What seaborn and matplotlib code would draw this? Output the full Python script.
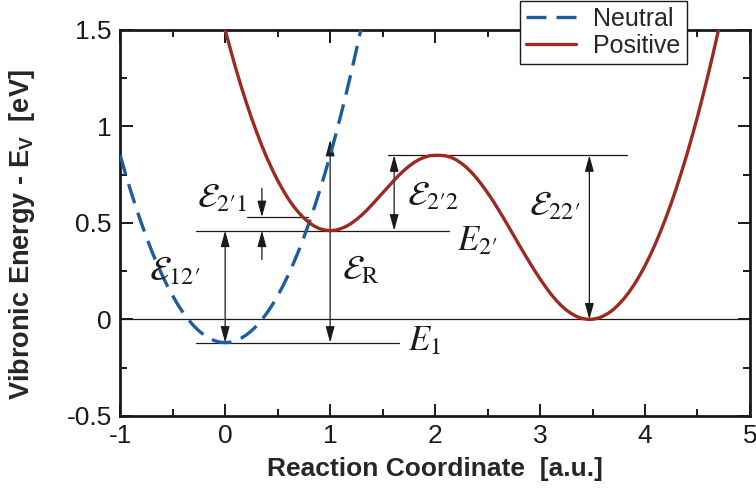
import numpy as np
import pandas as pd
import matplotlib
matplotlib.use('Agg')
import matplotlib.pyplot as plt
import seaborn as sns

# curve samples
neutral_x = [-1.0, -0.95, -0.9, -0.85, -0.8, -0.75, -0.7, -0.65, -0.6, -0.55, -0.5,
             -0.45, -0.4, -0.35, -0.3, -0.25, -0.2, -0.15, -0.1, -0.05, 0.0,
             0.05, 0.1, 0.15, 0.2, 0.25, 0.3, 0.35, 0.4, 0.45, 0.5,
             0.55, 0.6, 0.65, 0.7, 0.75, 0.8, 0.85, 0.9, 0.95, 1.0,
             1.05, 1.1, 1.15, 1.2, 1.25, 1.3]
neutral_y = [0.850, 0.755, 0.666, 0.581, 0.501, 0.426, 0.355, 0.290, 0.229, 0.173, 0.123,
             0.076, 0.035, -0.001, -0.033, -0.059, -0.081, -0.098, -0.110, -0.118, -0.120,
             -0.118, -0.110, -0.098, -0.081, -0.059, -0.033, -0.001, 0.035, 0.076, 0.123,
             0.173, 0.229, 0.290, 0.355, 0.426, 0.501, 0.581, 0.666, 0.755, 0.850,
             0.949, 1.054, 1.163, 1.277, 1.396, 1.519]

positive_x = [0.0, 0.05, 0.1, 0.15, 0.2, 0.25, 0.3, 0.35, 0.4, 0.45, 0.5,
              0.55, 0.6, 0.65, 0.7, 0.75, 0.8, 0.85, 0.9, 0.95, 1.0,
              1.05, 1.1, 1.15, 1.2, 1.25, 1.3, 1.35, 1.4, 1.45, 1.5,
              1.55, 1.6, 1.65, 1.7, 1.75, 1.8, 1.85, 1.9, 1.95, 2.0,
              2.05, 2.1, 2.15, 2.2, 2.25, 2.3, 2.35, 2.4, 2.45, 2.5,
              2.55, 2.6, 2.65, 2.7, 2.75, 2.8, 2.85, 2.9, 2.95, 3.0,
              3.05, 3.1, 3.15, 3.2, 3.25, 3.3, 3.35, 3.4, 3.45, 3.47,
              3.5, 3.55, 3.6, 3.65, 3.7, 3.75, 3.8, 3.85, 3.9, 3.95, 4.0,
              4.05, 4.1, 4.15, 4.2, 4.25, 4.3, 4.35, 4.4, 4.45, 4.5,
              4.55, 4.6, 4.65, 4.7, 4.75]
positive_y = [1.500, 1.399, 1.302, 1.211, 1.126, 1.045, 0.970, 0.899, 0.834, 0.775, 0.720,
              0.671, 0.626, 0.587, 0.554, 0.525, 0.502, 0.483, 0.470, 0.463, 0.460,
              0.462, 0.470, 0.481, 0.497, 0.517, 0.540, 0.566, 0.595, 0.625, 0.655,
              0.685, 0.715, 0.744, 0.770, 0.793, 0.813, 0.829, 0.840, 0.848, 0.850,
              0.850, 0.847, 0.840, 0.827, 0.809, 0.787, 0.760, 0.729, 0.694, 0.656,
              0.616, 0.572, 0.527, 0.481, 0.434, 0.387, 0.341, 0.296, 0.252, 0.210,
              0.171, 0.134, 0.101, 0.073, 0.049, 0.030, 0.015, 0.005, 0.001, 0.0,
              0.001, 0.006, 0.017, 0.032, 0.052, 0.078, 0.108, 0.143, 0.183, 0.228, 0.278,
              0.333, 0.393, 0.458, 0.528, 0.602, 0.682, 0.767, 0.856, 0.951, 1.050,
              1.155, 1.264, 1.379, 1.498, 1.622]

# energy levels
E1 = -0.12
E2p = 0.46
E2p1 = 0.53
barrier = 0.85

blue = '#1d5c9f'
red = '#9b2a22'
ink = '#1a1a1a'

sns.set_theme(style='ticks')
plt.rcParams['font.family'] = ['Liberation Sans', 'DejaVu Sans']
plt.rcParams['mathtext.fontset'] = 'custom'
plt.rcParams['mathtext.rm'] = 'Liberation Sans'
plt.rcParams['mathtext.bf'] = 'Liberation Sans:bold'
plt.rcParams['mathtext.it'] = 'Liberation Sans:italic'

fig = plt.figure(figsize=(7.56, 4.97), dpi=100)
ax = fig.add_axes([0.159, 0.163, 0.833, 0.777])

neutral = pd.DataFrame({'x': neutral_x, 'y': neutral_y})
positive = pd.DataFrame({'x': positive_x, 'y': positive_y})

line_kw = dict(color=ink, lw=0.9, zorder=1)
ax.axhline(0, **line_kw)
ax.plot([-0.28, 1.66], [E1, E1], **line_kw)
ax.plot([-0.28, 2.13], [E2p, E2p], **line_kw)
ax.plot([0.21, 0.79], [E2p1, E2p1], **line_kw)
ax.plot([1.55, 3.83], [barrier, barrier], **line_kw)

sns.lineplot(data=neutral, x='x', y='y', sort=False, estimator=None, ax=ax,
             color=blue, lw=2.4, linestyle=(0, (6, 3)), zorder=3)
sns.lineplot(data=positive, x='x', y='y', sort=False, estimator=None, ax=ax,
             color=red, lw=2.4, zorder=3)


def arrow(x, y0, y1, both=True):
    style = '<|-|>' if both else '-|>'
    ax.annotate('', xy=(x, y1), xytext=(x, y0),
                arrowprops=dict(arrowstyle=style + ',head_length=0.65,head_width=0.18',
                                mutation_scale=15, lw=0.9, color=ink,
                                shrinkA=0, shrinkB=0), zorder=2)


arrow(0.35, 0.68, E2p1, both=False)
arrow(0.35, 0.31, E2p, both=False)
arrow(0.0, E2p, E1)
arrow(1.0, E1, 0.93)
arrow(1.61, E2p, barrier)
arrow(3.47, 0.0, barrier)

txt = dict(fontsize=25, ha='center', va='center', math_fontfamily='stix', color=ink)
ax.text(-0.03, 0.63, r"$\mathcal{E}_{2\prime 1}$", **txt)
ax.text(-0.48, 0.25, r"$\mathcal{E}_{12\prime}$", **txt)
ax.text(1.29, 0.26, r"$\mathcal{E}_{\mathrm{R}}$", **txt)
ax.text(1.98, 0.64, r"$\mathcal{E}_{2\prime 2}$", **txt)
ax.text(3.14, 0.59, r"$\mathcal{E}_{22\prime}$", **txt)
ax.text(2.40, 0.41, r"$E_{2\prime}$", **txt)
ax.text(1.90, -0.11, r"$E_1$", **txt)

ax.set_xlim(-1, 5)
ax.set_ylim(-0.5, 1.5)
ax.set_xticks([-1, 0, 1, 2, 3, 4, 5])
ax.set_xticklabels(['-1', '0', '1', '2', '3', '4', '5'])
ax.set_yticks([-0.5, 0, 0.5, 1, 1.5])
ax.set_yticklabels(['-0.5', '0', '0.5', '1', '1.5'])
ax.set_xticks(np.arange(-0.5, 5, 1), minor=True)
ax.set_yticks(np.arange(-0.25, 1.5, 0.5), minor=True)
ax.tick_params(which='both', direction='in', top=True, right=True, width=1.4,
               labelsize=19, colors=ink, pad=6)
ax.tick_params(which='major', length=9)
ax.tick_params(which='minor', length=5)
for s in ax.spines.values():
    s.set_linewidth(2)
    s.set_color(ink)

ax.set_xlabel('Reaction Coordinate  [a.u.]', fontsize=19, fontweight='bold', labelpad=6)
ax.set_ylabel(r'Vibronic Energy - E$_\mathbf{V}$  [eV]', fontsize=19.5, fontweight='bold')
ax.yaxis.set_label_coords(-0.132, 0.47)

leg = ax.legend(handles=ax.lines[-2:], labels=['Neutral', 'Positive'], loc='upper right',
                bbox_to_anchor=(0.9, 1.075), borderaxespad=0, fontsize=18, frameon=True,
                fancybox=False, framealpha=1, edgecolor=ink, handlelength=2.0,
                borderpad=0.25, labelspacing=0.1, handletextpad=0.7)
leg.get_frame().set_linewidth(1)
leg.set_zorder(5)

fig.savefig('out.png', dpi=100)
